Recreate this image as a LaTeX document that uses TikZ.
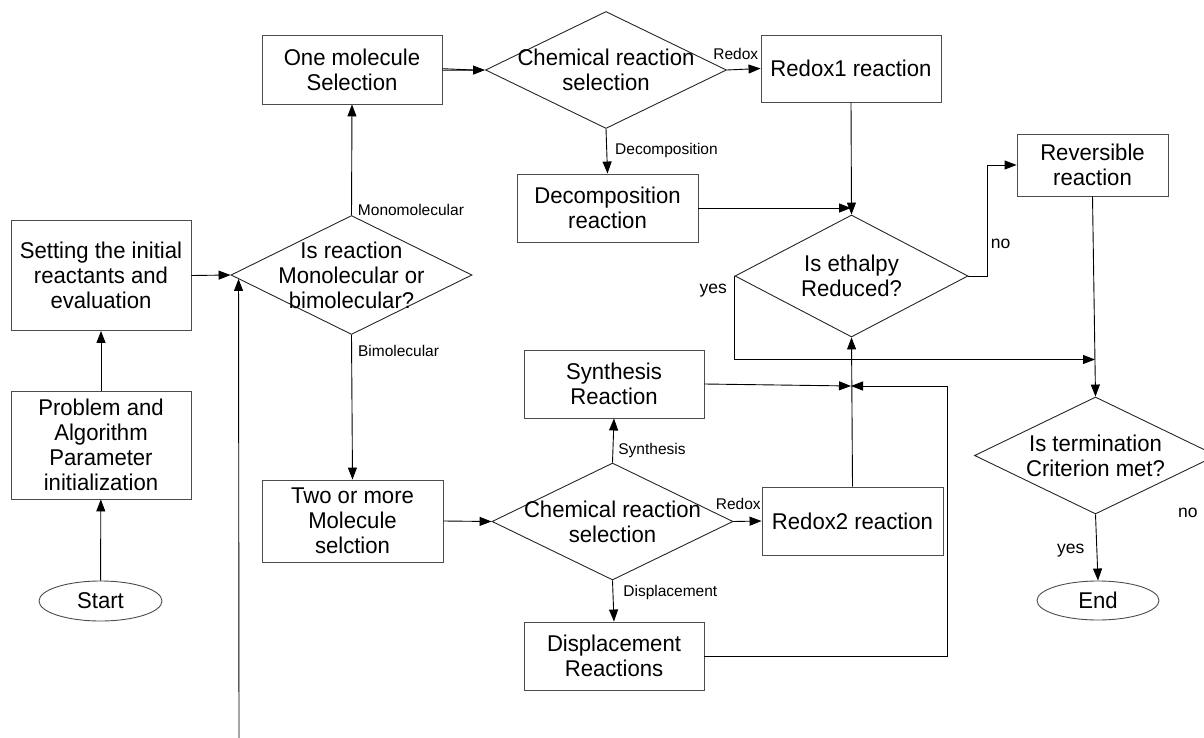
\documentclass[tikz,border=0pt]{standalone}
\usepackage{fontspec}
\setmainfont{Liberation Sans}
\newfontfamily\boxfont{Liberation Sans}[FakeStretch=0.97]
\usetikzlibrary{shapes.geometric,arrows.meta,calc}

\begin{document}
\begin{tikzpicture}[x=1pt,y=-1pt,
  every node/.style={inner sep=0pt},
  bigtext/.style={font=\boxfont\fontsize{22.8}{25}\selectfont},
  procbox/.style={draw=black!70, line width=0.9pt, rectangle, align=center, bigtext},
  decision/.style={draw=black!85, line width=0.9pt, diamond, minimum width=241pt, minimum height=118pt},
  dtext/.style={align=center, bigtext},
  terminal/.style={draw=black!70, line width=0.9pt, ellipse, bigtext},
  branch/.style={font=\fontsize{15.5}{18}\selectfont, anchor=west},
  answer/.style={font=\fontsize{17.5}{20}\selectfont, anchor=west},
  flow/.style={draw=black, line width=0.9pt, -{Triangle[length=12pt,width=9pt]}},
]
\useasboundingbox (0,0) rectangle (1204,738);
\clip (0,0) rectangle (1204,738);

% start and initialisation
\node[terminal, minimum width=123pt, minimum height=40pt] (start) at (100.5,601) {Start};
\node[procbox, minimum width=180pt, minimum height=108pt] (init) at (101,445)
  {Problem and\\Algorithm\\Parameter\\initialization};
\node[procbox, minimum width=180pt, minimum height=110pt] (setup) at (101,275.5)
  {Setting the initial\\reactants and\\evaluation};

% molecularity decision
\node[decision, minimum width=241pt, minimum height=119pt,
      label={[dtext]center:Is reaction\\Monolecular or\\bimolecular?}] (mol) at (351.5,275) {};
\node[procbox, minimum width=180pt, minimum height=69pt] (one) at (352,69.5) {One molecule\\Selection};
\node[procbox, minimum width=181pt, minimum height=82pt] (two) at (352.5,521) {Two or more\\Molecule\\selction};

% monomolecular branch
\node[decision, minimum height=117pt,
      label={[dtext]center:Chemical reaction\\selection}] (chemA) at (606,70) {};
\node[procbox, minimum width=180pt, minimum height=67pt] (redoxA) at (851,68.5) {Redox1 reaction};
\node[procbox, minimum width=181pt, minimum height=68pt] (decomp) at (607.5,208) {Decomposition\\reaction};

% bimolecular branch
\node[decision, minimum height=117pt,
      label={[dtext]center:Chemical reaction\\selection}] (chemB) at (612.5,521.5) {};
\node[procbox, minimum width=180pt, minimum height=68pt] (synth) at (614,384) {Synthesis\\Reaction};
\node[procbox, minimum width=181pt, minimum height=68pt] (redoxB) at (852.5,521) {Redox2 reaction};
\node[procbox, minimum width=180pt, minimum height=68pt] (displ) at (614,656) {Displacement\\Reactions};

% enthalpy and termination
\node[decision, minimum width=233pt, minimum height=122pt,
      label={[dtext]center:Is ethalpy\\Reduced?}] (enth) at (851.5,276) {};
\node[procbox, minimum width=151pt, minimum height=62pt] (rev) at (1092.5,165) {Reversible\\reaction};
\node[decision, minimum width=242pt, minimum height=117pt,
      label={[dtext]center:Is termination\\Criterion met?}] (term) at (1095.5,455.5) {};
\node[terminal, minimum width=122pt, minimum height=39pt] (stop) at (1098,600.5) {End};

% junction points
\coordinate (jA) at (851,202);
\coordinate (jB) at (851,386);
\coordinate (jC) at (1095,359.5);
\coordinate (loopin) at (239,745);

% connectors
\draw[flow] (start) -- (init);
\draw[flow] (init) -- (setup);
\draw[flow] (setup.east) -- (mol.west);
\draw[flow] (loopin) -- ($(mol.west)!0.066!(mol.south)$);
\draw[flow] (mol.north) -- node[branch, pos=0.05, xshift=6pt] {Monomolecular} (one.south);
\draw[flow] (mol.south) -- node[branch, pos=0.11, xshift=6pt] {Bimolecular} (two.north);

\draw[flow] ([yshift=-0.8pt]one.east) -- (chemA.west);
\draw[line width=0.9pt] ([yshift=0.8pt]one.east) -- ([xshift=-12pt]chemA.west);
\draw[flow] (chemA.east) -- node[branch, anchor=south west, pos=0, yshift=10pt, xshift=-14pt] {Redox} (redoxA.west);
\draw[flow] (chemA.south) -- node[branch, xshift=8pt, yshift=1pt] {Decomposition} (decomp.north);
\draw[flow] (redoxA.south) -- (enth.north);
\draw[flow] (decomp.east) -- (decomp.east -| jA);

\draw[flow] (enth.east) -- ++(19,0) node[answer, pos=1, anchor=south west, xshift=3pt, yshift=27pt] {no} |- (rev.west);
\draw[flow] (enth.west) |- (jC);
\node[answer, anchor=east] (yesA) at (727,291) {yes};
\draw[flow] (rev.south) -- (term.north);

\draw[flow] (two.east) -- (chemB.west);
\draw[flow] (chemB.north) -- node[branch, pos=0.28, xshift=5pt] {Synthesis} (synth.south);
\draw[flow] (chemB.east) -- node[branch, anchor=south west, pos=0, yshift=11pt, xshift=-18pt] {Redox} (redoxB.west);
\draw[flow] (chemB.south) -- node[branch, pos=0.3, xshift=10pt] {Displacement} (displ.north);
\draw[flow] (redoxB.north) -- (enth.south);
\draw[flow] (synth.east) -- (jB);
\draw[flow] (displ.east) -| (947,386) -- (jB);

\draw[flow] (term.south) -- node[answer, anchor=east, xshift=-12pt, yshift=-3pt] {yes} (stop.north);
\node[answer] (noB) at (1178,513) {no};
\end{tikzpicture}
\end{document}
